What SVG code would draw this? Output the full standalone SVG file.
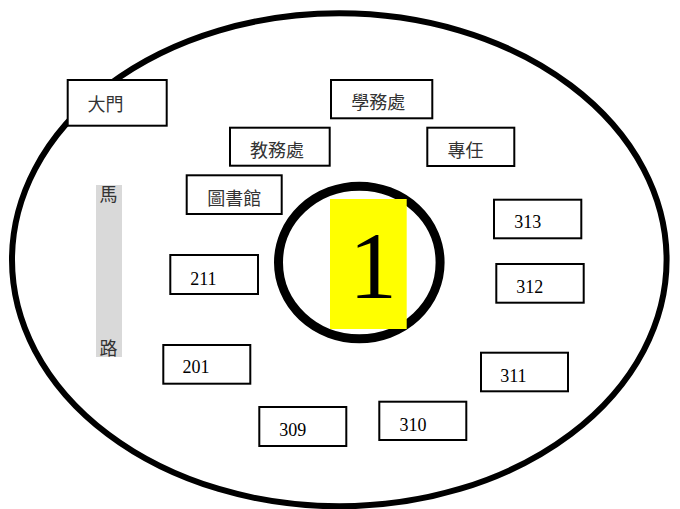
<svg xmlns="http://www.w3.org/2000/svg" width="680" height="509" viewBox="0 0 680 509">
<style>
.box{fill:#fff;stroke:#000;stroke-width:2}
.cjk{font-family:"Noto Sans CJK TC","Noto Sans CJK SC",sans-serif;font-size:18px;fill:#333;text-anchor:middle}
.num{font-family:"Liberation Serif","Times New Roman",serif;font-size:18px;fill:#000;text-anchor:middle}
</style>
<rect width="680" height="509" fill="#fff"/>
<g id="campus">
<ellipse cx="339.3" cy="259.8" rx="327.3" ry="246.5" fill="none" stroke="#000" stroke-width="6"/>
</g>
<g id="road">
<rect x="96" y="185" width="26" height="172" fill="#d9d9d9"/>
<text class="cjk" x="108.5" y="201">馬</text>
<text class="cjk" x="108.5" y="355">路</text>
</g>
<g id="connectors"></g>
<g id="gate"><rect class="box" x="67.7" y="80" width="99" height="45.7"/><text class="cjk" x="105.5" y="110.5">大門</text></g>
<g id="jiaowu"><rect class="box" x="230" y="127.7" width="99.7" height="38"/><text class="cjk" x="277" y="156.5">教務處</text></g>
<g id="library"><rect class="box" x="186.7" y="175.3" width="95" height="38.7"/><text class="cjk" x="234.2" y="205">圖書館</text></g>
<g id="xuewu"><rect class="box" x="331" y="80" width="101.3" height="38.3"/><text class="cjk" x="378.3" y="109">學務處</text></g>
<g id="zhuanren"><rect class="box" x="427.3" y="127.7" width="87" height="38.3"/><text class="cjk" x="465.5" y="157">專任</text></g>
<g id="r313"><rect class="box" x="494" y="199.7" width="87.3" height="38.6"/><text class="num" x="527.7" y="228">313</text></g>
<g id="r312"><rect class="box" x="496.3" y="264" width="87.4" height="38.7"/><text class="num" x="529.8" y="293">312</text></g>
<g id="r211"><rect class="box" x="170.3" y="255" width="87.7" height="39"/><text class="num" x="203.3" y="285">211</text></g>
<g id="r201"><rect class="box" x="163.3" y="345" width="87" height="38.7"/><text class="num" x="196" y="373.3">201</text></g>
<g id="r309"><rect class="box" x="259.3" y="407" width="87" height="39"/><text class="num" x="292.7" y="436">309</text></g>
<g id="r310"><rect class="box" x="379.3" y="401.7" width="87" height="38.3"/><text class="num" x="413" y="430.7">310</text></g>
<g id="r311"><rect class="box" x="481" y="352.7" width="87" height="38.6"/><text class="num" x="513.3" y="381.7">311</text></g>
<g id="center">
<ellipse cx="359.3" cy="262.5" rx="80.8" ry="76.3" fill="none" stroke="#000" stroke-width="9"/>
<rect x="330" y="199" width="76.7" height="130" fill="#ffff00"/>
<text x="373" y="298" font-family="'Liberation Serif','Times New Roman',serif" font-size="96" text-anchor="middle" fill="#000">1</text>
</g>
</svg>
